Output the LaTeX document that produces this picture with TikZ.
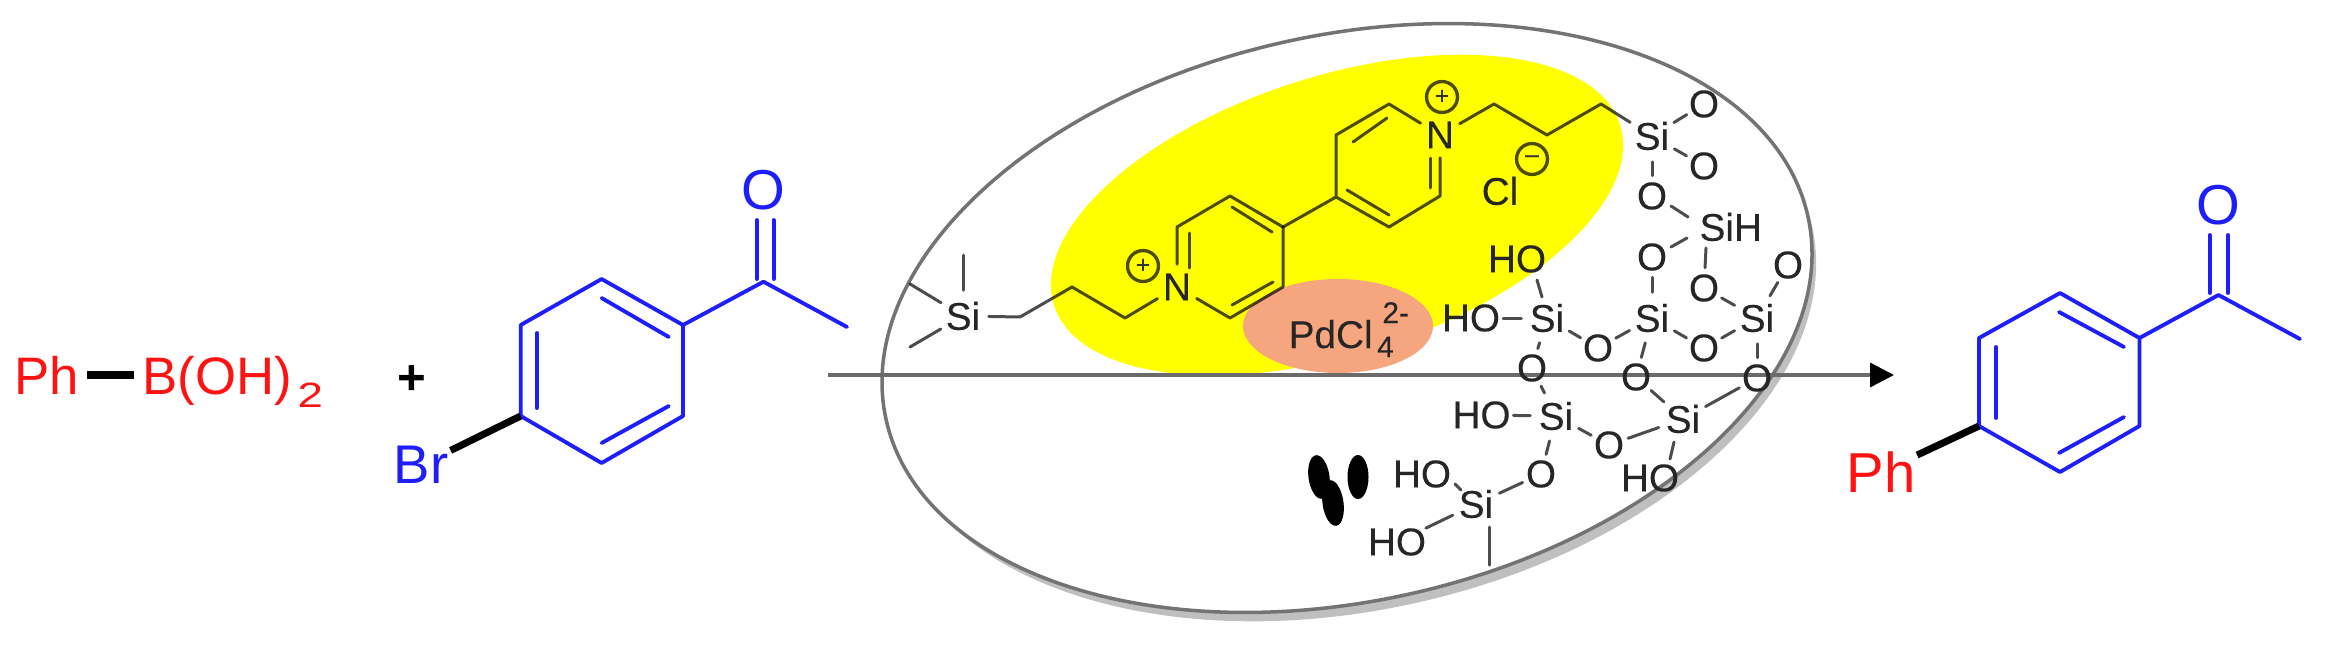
\documentclass[tikz,border=0pt]{standalone}
\usepackage{fontspec}
\setmainfont{Liberation Sans}
\newfontfamily\atomfont[FakeBold=0.25]{Liberation Sans}
\usetikzlibrary{arrows.meta}
\definecolor{cred}{HTML}{FF1212}
\definecolor{cblue}{HTML}{1E1EFA}
\definecolor{cyell}{HTML}{FFFF00}
\definecolor{cpink}{HTML}{F5A67F}
\tikzset{
  bigtext/.style={inner sep=0pt,outer sep=0pt,circle},
  redtext/.style={bigtext,text=cred,font=\fontsize{15.5}{18}\selectfont},
  bluetext/.style={bigtext,text=cblue,font=\fontsize{16}{18}\selectfont},
  bluebond/.style={draw=cblue,line width=1.1pt,line cap=round,line join=round},
  heavybond/.style={draw=black,line width=2pt},
  atomsi/.style={circle,inner sep=0pt,outer sep=1pt,text=black!85,font=\atomfont\fontsize{11}{13}\selectfont},
  atomo/.style={atomsi,outer sep=0pt},
  bond/.style={draw=black,draw opacity=.7,line width=.85pt,line cap=round,line join=round},
  chargemark/.style={circle,draw=black,draw opacity=.7,line width=.95pt,minimum size=8.8pt,inner sep=0pt,text=black!80,font=\atomfont\fontsize{7}{7}\selectfont},
  bead/.style={fill=black},
  rim/.style={draw=black!55,line width=1pt,fill=white},
}
\begin{document}
\begin{tikzpicture}[x=0.01cm,y=-0.01cm]
\useasboundingbox (0,0) rectangle (2330,645);
% capsule
\fill[black!25,rotate around={12.4:(1353,327)}] (1353,327) ellipse [x radius=470, y radius=283];
\path[rim,rotate around={12.4:(1347,318)}] (1347,318) ellipse [x radius=472, y radius=283];
\fill[cyell,rotate around={17.7:(1337,215)}] (1337,215) ellipse [x radius=297, y radius=139];
\fill[cpink] (1338,326) ellipse [x radius=95, y radius=47];
% arrow
\coordinate (arrA) at (828,375);
\coordinate (arrB) at (1894,375);
\draw[draw=black!58,line width=.95pt,-{Triangle[length=6.8pt,width=6.8pt,black]}] (arrA) -- (arrB);
% reagents
\node[anchor=west,inner xsep=2.2pt,inner ysep=0pt,text height=11pt,text depth=0pt,text=cred,font=\fontsize{15}{18}\selectfont] (ph1) at (6,375) {Ph};
\node[anchor=west,inner xsep=2.2pt,inner ysep=0pt,text height=11pt,text depth=0pt,text=cred,font=\fontsize{15}{18}\selectfont] (boh) at (134,375) {B(OH)\hspace{1.6pt}\raisebox{-3.7pt}{\scalebox{1.3}[1]{\fontsize{10}{12}\selectfont 2}}};
\draw[heavybond] (ph1) -- (boh);
\node[font=\fontsize{14}{18}\selectfont\bfseries,inner sep=0pt] (plus) at (412,380) {+};
% left molecule
\coordinate (La) at (601.6,279);
\coordinate (Lb) at (683,325);
\coordinate (Lc) at (683,416);
\coordinate (Ld) at (601.6,463);
\coordinate (Le) at (520.7,416);
\coordinate (Lf) at (520.7,325);
\coordinate (Lk) at (763.5,281.7);
\coordinate (Lm) at (847,327);
\coordinate (Lo1) at (756.6,220);
\coordinate (Lo2) at (773.8,220);
\coordinate (Lk1) at (756.6,279);
\coordinate (Lk2) at (773.8,279);
\draw[bluebond] (La) -- (Lb) -- (Lc) -- (Ld) -- (Le) -- (Lf) -- cycle;
\draw[bluebond] (Lb) -- (Lk) -- (Lm);
\draw[bluebond] (Lo1) -- (Lk1);
\draw[bluebond] (Lo2) -- (Lk2);
\coordinate (Li1) at (601.6,298);
\coordinate (Li2) at (668.8,337);
\coordinate (Li3) at (536.7,333);
\coordinate (Li4) at (536.7,408);
\coordinate (Li5) at (668.8,406);
\coordinate (Li6) at (601.6,443);
\draw[bluebond] (Li1) -- (Li2);
\draw[bluebond] (Li3) -- (Li4);
\draw[bluebond] (Li5) -- (Li6);
\node[bluetext] (LO) at (763.5,190) {O};
\node[bluetext,font=\fontsize{15.5}{18}\selectfont] (Br) at (421,465) {Br};
\draw[heavybond] (Le) -- (Br);
% product
\coordinate (Ra) at (2060,293);
\coordinate (Rb) at (2139.5,338);
\coordinate (Rc) at (2139.5,426);
\coordinate (Rd) at (2060,472);
\coordinate (Re) at (1979,426);
\coordinate (Rf) at (1979,338);
\coordinate (Rk) at (2218.5,295);
\coordinate (Rm) at (2300,339);
\coordinate (Ro1) at (2209.7,235);
\coordinate (Ro2) at (2228,235);
\coordinate (Rk1) at (2209.7,293);
\coordinate (Rk2) at (2228,293);
\draw[bluebond] (Ra) -- (Rb) -- (Rc) -- (Rd) -- (Re) -- (Rf) -- cycle;
\draw[bluebond] (Rb) -- (Rk) -- (Rm);
\draw[bluebond] (Ro1) -- (Rk1);
\draw[bluebond] (Ro2) -- (Rk2);
\coordinate (Ri1) at (2059,312);
\coordinate (Ri2) at (2124,347);
\coordinate (Ri3) at (1996,347);
\coordinate (Ri4) at (1996,418);
\coordinate (Ri5) at (2059,453);
\coordinate (Ri6) at (2124,417);
\draw[bluebond] (Ri1) -- (Ri2);
\draw[bluebond] (Ri3) -- (Ri4);
\draw[bluebond] (Ri5) -- (Ri6);
\node[bluetext] (RO) at (2218.5,205) {O};
\node[redtext,font=\fontsize{16}{18}\selectfont] (Rph) at (1881,472) {Ph};
\draw[heavybond] (Re) -- (Rph);
% viologen linker
\node[atomsi] (si0) at (963,316) {Si};
\coordinate (me1) at (963,255);
\coordinate (me2) at (910,284);
\coordinate (me3) at (910,347);
\draw[bond] (si0) -- (me1);
\draw[bond] (si0) -- (me2);
\draw[bond] (si0) -- (me3);
\coordinate (c1) at (1020,317);
\coordinate (c2) at (1072,287);
\coordinate (c3) at (1125,318);
\node[atomsi] (n1) at (1177,287) {N};
\draw[bond] (si0) -- (c1) -- (c2) -- (c3) -- (n1);
\node[chargemark] (plus1) at (1143,266) {+};
\coordinate (p1) at (1178,227);
\coordinate (p2) at (1230,196);
\coordinate (p3) at (1283,227);
\coordinate (p4) at (1283,287);
\coordinate (p5) at (1230,318);
\draw[bond] (n1) -- (n1|-p1) -- (p2) -- (p3) -- (p4) -- (p5) -- (n1);
\coordinate (pi1) at (1189,233);
\coordinate (pi2) at (1189,268);
\coordinate (pi3) at (1232,207);
\coordinate (pi4) at (1272,232);
\coordinate (pi5) at (1232,305);
\coordinate (pi6) at (1273,282);
\draw[bond] (pi1) -- (pi2);
\draw[bond] (pi3) -- (pi4);
\draw[bond] (pi5) -- (pi6);
\coordinate (q1) at (1336,197);
\coordinate (q2) at (1336,135);
\coordinate (q3) at (1389,104);
\node[atomsi] (n2) at (1440,135) {N};
\coordinate (q4) at (1440,196);
\coordinate (q5) at (1389,227);
\draw[bond] (p3) -- (q1) -- (q2) -- (q3) -- (n2) -- (q4) -- (q5) -- (q1);
\coordinate (qi1) at (1353,142);
\coordinate (qi2) at (1387,118);
\coordinate (qi3) at (1430,158);
\coordinate (qi4) at (1430,188);
\coordinate (qi5) at (1347,190);
\coordinate (qi6) at (1389,215);
\draw[bond] (qi1) -- (qi2);
\draw[bond] (qi3) -- (qi4);
\draw[bond] (qi5) -- (qi6);
\node[chargemark] (plus2) at (1442,97) {+};
\coordinate (d1) at (1494,104);
\coordinate (d2) at (1547,135);
\coordinate (d3) at (1601,104);
\node[atomsi] (si1) at (1652,136) {Si};
\draw[bond] (n2) -- (d1) -- (d2) -- (d3) -- (si1);
\node[atomsi,inner sep=0pt] (cl) at (1500,191) {Cl};
\node[chargemark] (minus) at (1532,159) {–};
\node[anchor=base west,inner sep=0pt,text=black!85,font=\atomfont\fontsize{11}{13}\selectfont] (pd) at (1288,348) {PdCl\rlap{\hspace{1.3pt}\raisebox{-2.6pt}{\fontsize{8.5}{10}\selectfont 4}}\hspace{2.8pt}\raisebox{7.1pt}{\fontsize{8.5}{10}\selectfont 2-}};
% silica network
\node[atomo] (o1) at (1704,104) {O};
\node[atomo] (o2) at (1704,166) {O};
\node[atomo] (o3) at (1652,196) {O};
\node[atomsi,anchor=west] (sih) at (1693,227) {SiH};
\node[atomo] (o4) at (1652,257) {O};
\node[atomo] (o5) at (1704,288) {O};
\node[atomo] (o6) at (1788,265) {O};
\node[atomo] (ho1) at (1517,259) {HO};
\node[atomo] (ho2) at (1471,318) {HO};
\node[atomsi] (si2) at (1547,318) {Si};
\node[atomsi] (si3) at (1652,318) {Si};
\node[atomsi] (si4) at (1757,318) {Si};
\node[atomo] (o7) at (1598,348) {O};
\node[atomo] (o8) at (1704,348) {O};
\node[atomo] (o9) at (1532,368) {O};
\node[atomo] (o10) at (1636,377) {O};
\node[atomo] (o11) at (1757,378) {O};
\node[atomo] (ho3) at (1481.5,415) {HO};
\node[atomsi] (si5) at (1556,416) {Si};
\node[atomo] (o12) at (1609,445) {O};
\node[atomsi] (si6) at (1683,419) {Si};
\node[atomo] (ho4) at (1650,478) {HO};
\node[atomo] (o13) at (1541,474) {O};
\node[atomo] (ho5) at (1422,474) {HO};
\node[atomsi] (si7) at (1476,504) {Si};
\node[atomo] (ho6) at (1397,542) {HO};
\draw[bond] (si1) -- (o1);
\draw[bond] (si1) -- (o2);
\draw[bond] (si1) -- (o3);
\coordinate (s1a) at (1671,206);
\coordinate (s1b) at (1688,217);
\coordinate (s1c) at (1671,247);
\coordinate (s1d) at (1687,238);
\coordinate (s1e) at (1706,248);
\draw[bond] (s1a) -- (s1b);
\draw[bond] (s1c) -- (s1d);
\draw[bond] (s1e) -- (o5);
\draw[bond] (o4) -- (si3);
\draw[bond] (o5) -- (si4);
\draw[bond] (si4) -- (o6);
\coordinate (h1a) at (1537,280);
\coordinate (h1b) at (1542,297);
\draw[bond] (h1a) -- (h1b);
\draw[bond] (ho2) -- (si2);
\draw[bond] (si2) -- (o7);
\draw[bond] (o7) -- (si3);
\draw[bond] (si3) -- (o8);
\draw[bond] (o8) -- (si4);
\draw[bond] (si4) -- (o11);
\draw[bond] (si2) -- (o9);
\draw[bond] (si3) -- (o10);
\draw[bond] (o9) -- (si5);
\draw[bond] (ho3) -- (si5);
\draw[bond] (si5) -- (o12);
\draw[bond] (o12) -- (si6);
\draw[bond] (o10) -- (si6);
\draw[bond] (si6) -- (o11);
\coordinate (h4a) at (1674,442);
\coordinate (h4b) at (1670,459);
\draw[bond] (h4a) -- (h4b);
\draw[bond] (si5) -- (o13);
\draw[bond] (o13) -- (si7);
\coordinate (h5a) at (1455,484);
\coordinate (h5b) at (1461,490);
\draw[bond] (h5a) -- (h5b);
\draw[bond] (ho6) -- (si7);
\coordinate (t1) at (1489,527);
\coordinate (t2) at (1489,565);
\draw[bond] (t1) -- (t2);
% dark beads
\fill[bead,rotate around={8:(1319,477)}] (1319,477) ellipse [x radius=10.5, y radius=22];
\fill[bead,rotate around={8:(1333,503)}] (1333,503) ellipse [x radius=10.5, y radius=23];
\fill[bead] (1358,477) ellipse [x radius=10.5, y radius=22];
\end{tikzpicture}
\end{document}
